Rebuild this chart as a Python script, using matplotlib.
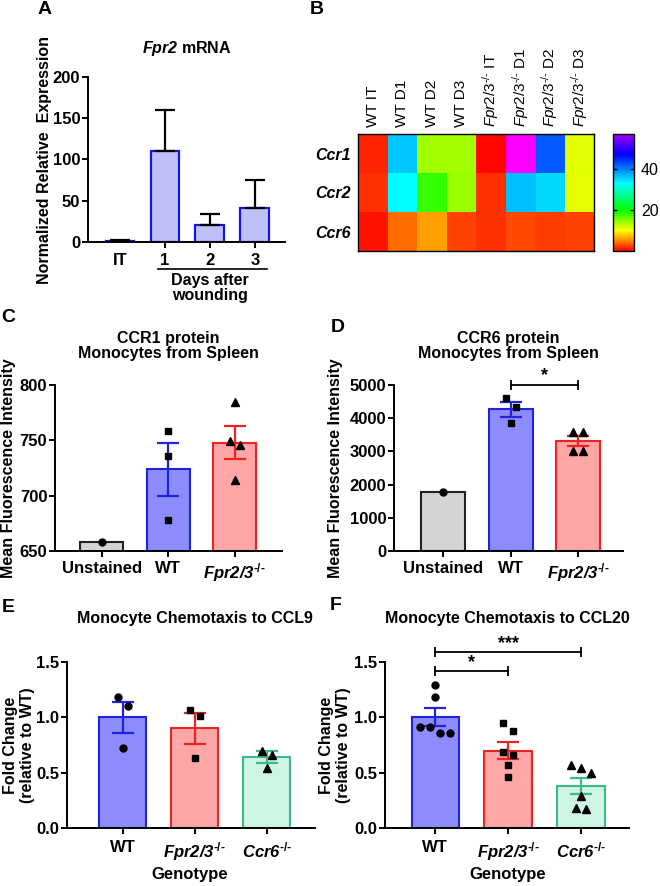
import numpy as np
import matplotlib
matplotlib.use('Agg')
import matplotlib.pyplot as plt
from matplotlib.colors import LinearSegmentedColormap

plt.rcParams['font.family'] = ['Liberation Sans', 'DejaVu Sans']
plt.rcParams['font.weight'] = 'bold'
plt.rcParams['mathtext.fontset'] = 'custom'
plt.rcParams['mathtext.rm'] = 'Liberation Sans:normal'
plt.rcParams['mathtext.it'] = 'Liberation Sans:italic:normal'
plt.rcParams['mathtext.bf'] = 'Liberation Sans:bold'
plt.rcParams['mathtext.bfit'] = 'Liberation Sans:italic:bold'

HY = '\u2010'
KO_REG = r'$\mathit{Fpr2/3}^{' + HY + '/' + HY + '}$'
KO_BF = r'$\mathbfit{Fpr2/3}^{\mathbf{' + HY + '/' + HY + '}}$'
CC_BF = r'$\mathbfit{Ccr6}^{\mathbf{' + HY + '/' + HY + '}}$'

# ---------------- data ----------------
# Panel A
a_cats = ['IT', '1', '2', '3']
a_mean = [1, 110, 21, 41]
a_err = [1, 50, 13, 34]

# Panel B (heatmap)
b_cols = ['WT IT', 'WT D1', 'WT D2', 'WT D3',
          KO_REG + ' IT', KO_REG + ' D1', KO_REG + ' D2', KO_REG + ' D3']
b_rows = ['Ccr1', 'Ccr2', 'Ccr6']
b_ccr1 = [1.5, 36, 13.7, 13.7, 0.4, 60, 42, 11.2]
b_ccr2 = [1.8, 33, 18, 14, 1.8, 36.5, 35, 11]
b_ccr6 = [0.8, 4.1, 6.2, 2.5, 2.0, 2.7, 2.4, 2.6]
b_ticks = [20, 40]

# Panel C
cd_groups = ['Unstained', 'WT', KO_BF]
c_mean = [658, 724, 748]
c_sem = [0, 24, 14.5]
c_pts = [[658], [758, 736, 678], [785, 749, 746, 714]]

# Panel D
d_mean = [1770, 4270, 3300]
d_sem = [0, 220, 150]
d_pts = [[1770], [4600, 4330, 3870], [3590, 3570, 3020, 3000]]
d_sig = [(1, 2, 5000, '*')]

# Panel E
ef_groups = ['WT', KO_BF, CC_BF]
e_mean = [1.0, 0.90, 0.64]
e_sem = [0.14, 0.14, 0.055]
e_pts = [[1.18, 1.10, 0.72], [1.07, 1.01, 0.63], [0.70, 0.66, 0.54]]

# Panel F
f_mean = [1.0, 0.70, 0.38]
f_sem = [0.08, 0.075, 0.075]
f_pts = [[1.29, 1.18, 0.91, 0.91, 0.86, 0.86],
         [0.95, 0.88, 0.69, 0.66, 0.57, 0.46],
         [0.57, 0.54, 0.50, 0.29, 0.18, 0.17]]
f_sig = [(0, 1, 1.42, '*'), (0, 2, 1.59, '***')]

# ---------------- style ----------------
GREY_F, GREY_E = '#d4d4d4', '#222222'
WT_F, WT_E = '#8c8cff', '#2222dd'
KO_F, KO_E = '#ffa6a6', '#ee2222'
CC_F, CC_E = '#ccf5e4', '#3cb88a'
TICK_FS = 12
LAB_FS = 11.5

W, H = 660, 886
fig = plt.figure(figsize=(W / 100, H / 100), dpi=100)


def add_ax(x0, y0, x1, y1):
    return fig.add_axes([x0 / W, 1 - y1 / H, (x1 - x0) / W, (y1 - y0) / H])


def style_ax(ax, xpad=4):
    for s in ['top', 'right']:
        ax.spines[s].set_visible(False)
    for s in ['left', 'bottom']:
        ax.spines[s].set_linewidth(1.4)
    ax.tick_params(axis='both', direction='out', length=4, width=1.4, labelsize=TICK_FS)
    ax.tick_params(axis='y', pad=1.5)
    ax.tick_params(axis='x', pad=xpad)


def swarm_offsets(ax, vals, spacing_px=10, tol_px=9.5):
    pos = ax.get_position()
    ylo, yhi = ax.get_ylim()
    xlo, xhi = ax.get_xlim()
    ppu_y = pos.height * H / (yhi - ylo)
    ppu_x = pos.width * W / (xhi - xlo)
    order = sorted(range(len(vals)), key=lambda i: -vals[i])
    rows = []
    for i in order:
        if rows and (vals[rows[-1][-1]] - vals[i]) * ppu_y < tol_px:
            rows[-1].append(i)
        else:
            rows.append([i])
    offs = [0.0] * len(vals)
    for r in rows:
        n = len(r)
        for k, i in enumerate(r):
            offs[i] = (k - (n - 1) / 2) * spacing_px / ppu_x
    return np.array(offs)


def dot_bar(ax, means, sems, pts, fills, edges, markers, msizes, width=0.65):
    x = np.arange(len(means))
    ax.bar(x, means, width, color=fills, edgecolor=edges, linewidth=1.5, zorder=2)
    for i in range(len(means)):
        offs = swarm_offsets(ax, pts[i])
        ax.plot(x[i] + offs, pts[i], linestyle='none', marker=markers[i],
                markersize=msizes[i], color='black', zorder=4, clip_on=False)
        if sems[i] > 0:
            ax.errorbar(x[i], means[i], yerr=sems[i], color=edges[i], capsize=8,
                        elinewidth=1.6, capthick=1.6, zorder=3, fmt='none')


def sig_bars(ax, sigs, dy):
    for x1, x2, y, lab in sigs:
        ax.plot([x1, x2], [y, y], color='black', lw=1.3, marker='|', ms=7, mew=1.3,
                clip_on=False, zorder=5)
        ax.text((x1 + x2) / 2, y + dy, lab, ha='center', va='bottom', fontsize=13,
                fontweight='bold', clip_on=False)


# ---------------- Panel A ----------------
axA = add_ax(88, 77, 285, 242)
xa = np.arange(len(a_cats))
axA.set_xlim(-0.71, 3.67)
axA.set_ylim(0, 200)
axA.bar(xa, a_mean, 0.64, color='#c0c0f8', edgecolor='#1414e6', linewidth=1.6, zorder=2)
axA.errorbar(xa, a_mean, yerr=[np.zeros(len(a_err)), a_err], fmt='none', ecolor='black',
             elinewidth=1.6, capsize=7, capthick=1.6, zorder=3)
style_ax(axA, xpad=4)
axA.set_xticks(xa)
axA.set_xticklabels(a_cats)
axA.xaxis.get_major_ticks()[0].tick1line.set_visible(False)
axA.set_yticks([0, 50, 100, 150, 200])
axA.text(0.5, 1.17, r'$\mathbfit{Fpr2}$ mRNA', transform=axA.transAxes, ha='center',
         va='center', fontsize=LAB_FS)
axA.plot([0.85, 3.27], [-0.165, -0.165], color='black', lw=1.2,
         transform=axA.get_xaxis_transform(), clip_on=False)
axA.text(2.0, -0.19, 'Days after\nwounding', transform=axA.get_xaxis_transform(),
         ha='center', va='top', fontsize=LAB_FS, linespacing=1.0)
fig.text(45 / W, 1 - 160 / H, 'Normalized Relative  Expression', rotation=90,
         ha='center', va='center', fontsize=LAB_FS)

# ---------------- Panel B ----------------
axB = add_ax(358, 134, 594, 251)
cmap = LinearSegmentedColormap.from_list('rb', [
    (0 / 57, '#ff0000'), (5 / 57, '#ff8800'), (10 / 57, '#ffff00'),
    (20 / 57, '#00ff00'), (33 / 57, '#00ffff'), (47 / 57, '#0000ff'),
    (1.0, '#a000ff')])
cmap.set_over('#ff00ff')
hm = np.array([b_ccr1, b_ccr2, b_ccr6])
im = axB.imshow(hm, cmap=cmap, vmin=0, vmax=57, aspect='auto', interpolation='nearest')
axB.xaxis.tick_top()
axB.set_xticks(np.arange(len(b_cols)))
axB.set_xticklabels(b_cols, rotation=90, fontweight='normal', fontsize=11)
axB.set_yticks(np.arange(len(b_rows)))
axB.set_yticklabels(b_rows, fontstyle='italic', fontweight='bold', fontsize=LAB_FS)
axB.tick_params(length=0, pad=5)
for s in axB.spines.values():
    s.set_linewidth(1.0)
axCB = add_ax(613, 134, 634, 251)
cb = fig.colorbar(im, cax=axCB)
cb.set_ticks(b_ticks)
cb.outline.set_linewidth(1.0)
axCB.tick_params(which='both', direction='in', left=True, right=True, length=3,
                 width=1, labelsize=11.5, pad=5)
for lab in axCB.get_yticklabels():
    lab.set_fontweight('normal')

# ---------------- Panel C ----------------
axC = add_ax(55, 385, 282, 551)
axC.set_xlim(-0.70, 2.71)
axC.set_ylim(650, 800)
dot_bar(axC, c_mean, c_sem, c_pts, [GREY_F, WT_F, KO_F], [GREY_E, WT_E, KO_E],
        ['o', 's', '^'], [5, 5, 5.5])
style_ax(axC, xpad=3)
axC.set_xticks(range(3))
axC.set_xticklabels(cd_groups)
axC.set_yticks([650, 700, 750, 800])
axC.text(0.5, 1.235, 'CCR1 protein\nMonocytes from Spleen', transform=axC.transAxes,
         ha='center', va='center', fontsize=LAB_FS, linespacing=1.05)
fig.text(9 / W, 1 - 468 / H, 'Mean Fluorescence Intensity', rotation=90,
         ha='center', va='center', fontsize=LAB_FS)

# ---------------- Panel D ----------------
axD = add_ax(394, 385, 623, 551)
axD.set_xlim(-0.73, 2.66)
axD.set_ylim(0, 5000)
dot_bar(axD, d_mean, d_sem, d_pts, [GREY_F, WT_F, KO_F], [GREY_E, WT_E, KO_E],
        ['o', 's', '^'], [5, 5, 5.5])
style_ax(axD, xpad=3)
axD.set_xticks(range(3))
axD.set_xticklabels(cd_groups)
axD.set_yticks([0, 1000, 2000, 3000, 4000, 5000])
sig_bars(axD, d_sig, 20)
axD.text(0.5, 1.235, 'CCR6 protein\nMonocytes from Spleen', transform=axD.transAxes,
         ha='center', va='center', fontsize=LAB_FS, linespacing=1.05)
fig.text(336 / W, 1 - 468 / H, 'Mean Fluorescence Intensity', rotation=90,
         ha='center', va='center', fontsize=LAB_FS)

# ---------------- Panel E ----------------
axE = add_ax(67, 662, 315, 828)
axE.set_xlim(-0.77, 2.67)
axE.set_ylim(0, 1.5)
dot_bar(axE, e_mean, e_sem, e_pts, [WT_F, KO_F, CC_F], [WT_E, KO_E, CC_E],
        ['o', 's', '^'], [5, 5, 5.5])
style_ax(axE, xpad=5)
axE.set_xticks(range(3))
axE.set_xticklabels(ef_groups)
axE.set_yticks([0, 0.5, 1.0, 1.5])
axE.set_yticklabels(['0.0', '0.5', '1.0', '1.5'])
axE.text(0.515, 1.265, 'Monocyte Chemotaxis to CCL9', transform=axE.transAxes,
         ha='center', va='center', fontsize=LAB_FS)
fig.text(19 / W, 1 - 745 / H, 'Fold Change\n(relative to WT)', rotation=90,
         ha='center', va='center', fontsize=LAB_FS, linespacing=1.15)
fig.text(190 / W, 1 - 875 / H, 'Genotype', ha='center', va='center', fontsize=12)

# ---------------- Panel F ----------------
axF = add_ax(385, 662, 629, 828)
axF.set_xlim(-0.69, 2.66)
axF.set_ylim(0, 1.5)
dot_bar(axF, f_mean, f_sem, f_pts, [WT_F, KO_F, CC_F], [WT_E, KO_E, CC_E],
        ['o', 's', '^'], [5, 5, 5.5])
style_ax(axF, xpad=5)
axF.set_xticks(range(3))
axF.set_xticklabels(ef_groups)
axF.set_yticks([0, 0.5, 1.0, 1.5])
axF.set_yticklabels(['0.0', '0.5', '1.0', '1.5'])
sig_bars(axF, f_sig, 0.0)
axF.text(0.5, 1.265, 'Monocyte Chemotaxis to CCL20', transform=axF.transAxes,
         ha='center', va='center', fontsize=LAB_FS)
fig.text(335 / W, 1 - 745 / H, 'Fold Change\n(relative to WT)', rotation=90,
         ha='center', va='center', fontsize=LAB_FS, linespacing=1.15)
fig.text(508 / W, 1 - 875 / H, 'Genotype', ha='center', va='center', fontsize=12)

# ---------------- panel letters ----------------
for lab, px, py in [('A', 45, 10), ('B', 317, 9), ('C', 8, 318), ('D', 338, 327),
                    ('E', 8, 607), ('F', 336, 605)]:
    fig.text(px / W, 1 - py / H, lab, ha='center', va='center', fontsize=14,
             fontweight='bold')

fig.savefig('out.png', dpi=100)
